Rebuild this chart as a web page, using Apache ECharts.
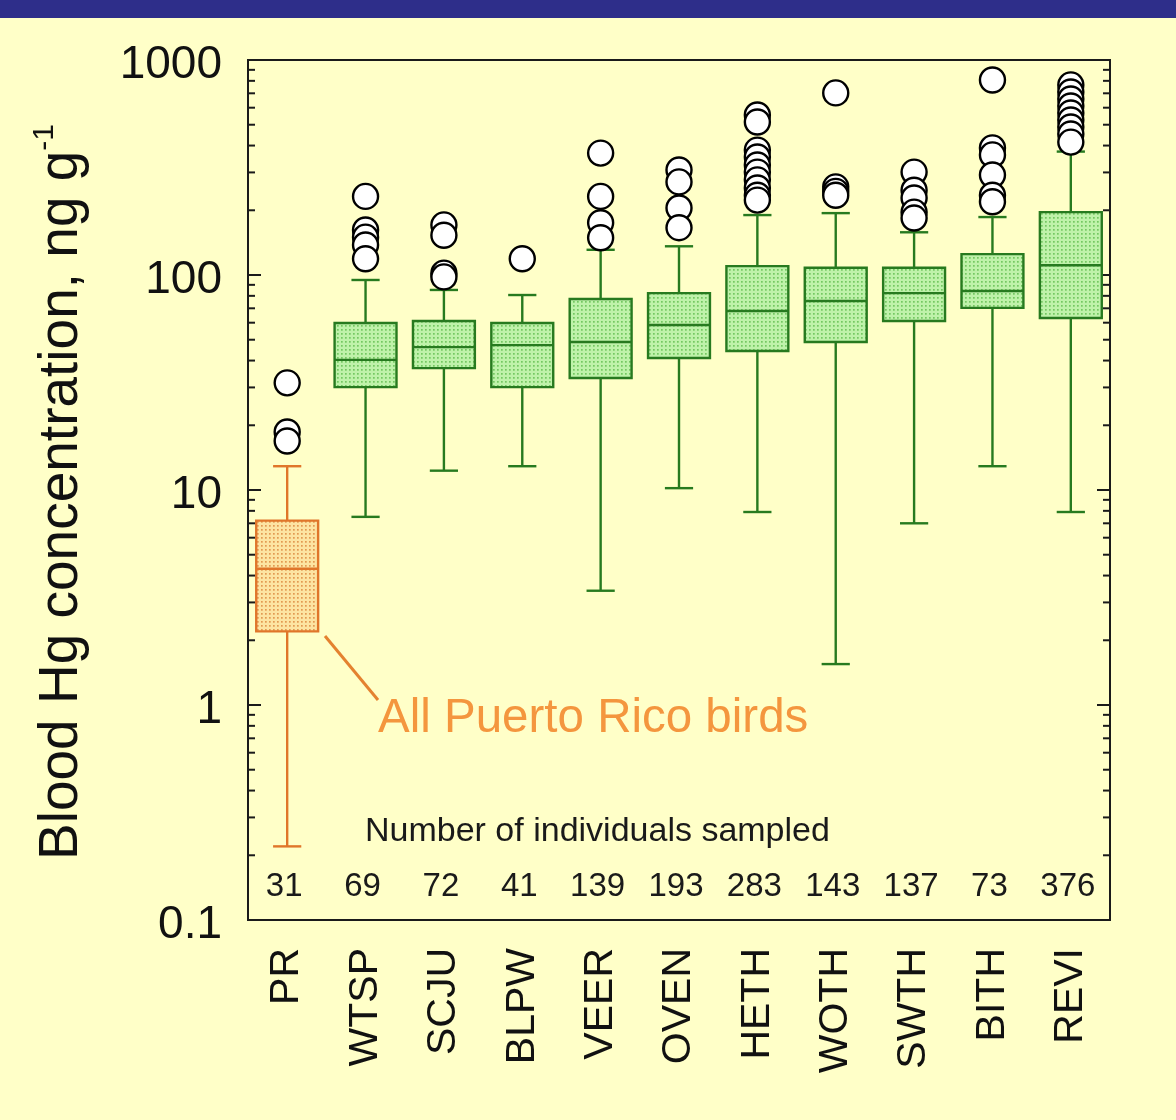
<!DOCTYPE html>
<html>
<head>
<meta charset="utf-8">
<script src="https://cdn.jsdelivr.net/npm/echarts@6/dist/echarts.min.js"></script>
<style>
html,body{margin:0;padding:0;background:#FFFFC8;}
#chart{width:1176px;height:1120px;}
</style>
</head>
<body>
<div id="chart"></div>
<script>
// ---- data ----
var categories = ['PR','WTSP','SCJU','BLPW','VEER','OVEN','HETH','WOTH','SWTH','BITH','REVI'];
var whiskerLow  = [0.22, 7.5, 12.3, 12.9, 3.4, 10.2, 7.9, 1.55, 7.0, 12.9, 7.9];
var quartile1   = [2.2, 30.1, 36.9, 30.1, 33.2, 41.1, 44.3, 48.8, 61.1, 70.3, 63.1];
var medians     = [4.3, 40.3, 46.2, 47.2, 48.8, 58.5, 68, 75.7, 82.4, 84.3, 111];
var quartile3   = [7.2, 59.8, 61.1, 59.8, 77.3, 82.4, 110, 108, 108, 125, 196];
var whiskerHigh = [12.9, 94.8, 85.2, 80.7, 131, 136, 190, 194, 158, 186, 375];
var sampleSizes = [31, 69, 72, 41, 139, 193, 283, 143, 137, 73, 376];
var outliersPR   = [31.5, 18.6, 16.9];
var outliersWTSP = [232, 162, 150, 138, 119];
var outliersSCJU = [171, 153, 102, 98];
var outliersBLPW = [119];
var outliersVEER = [369, 232, 175, 149];
var outliersOVEN = [308, 271, 205, 166];
var outliersHETH = [555, 515, 381, 354, 325, 301, 277, 254, 235, 223];
var outliersWOTH = [703, 257, 245, 235];
var outliersSWTH = [301, 248, 228, 196, 184];
var outliersBITH = [807, 390, 362, 292, 235, 219];
var outliersREVI = [766, 710, 659, 611, 567, 526, 488, 453, 415];
var yTickLabels = ['0.1','1','10','100','1000'];
var decades = [0.1, 1, 10, 100, 1000];

var outlierLists = [outliersPR, outliersWTSP, outliersSCJU, outliersBLPW, outliersVEER,
  outliersOVEN, outliersHETH, outliersWOTH, outliersSWTH, outliersBITH, outliersREVI];

// ---- derived tables ----
var boxData = categories.map(function (c, i) {
  return [i, whiskerLow[i], quartile1[i], medians[i], quartile3[i], whiskerHigh[i]];
});
var outlierData = [];
outlierLists.forEach(function (arr, i) { arr.forEach(function (v) { outlierData.push([i, v]); }); });
var countData = sampleSizes.map(function (n, i) { return [i, n]; });
var tickData = [];
decades.forEach(function (d, k) {
  tickData.push([0, d, 1]);
  if (k < decades.length - 1) {
    for (var m = 2; m <= 9; m++) tickData.push([0, d * m, 0]);
  }
});

function makePattern(bg, dot) {
  var c = document.createElement('canvas');
  c.width = 4; c.height = 4;
  var ctx = c.getContext('2d');
  ctx.fillStyle = bg; ctx.fillRect(0, 0, 4, 4);
  ctx.fillStyle = dot; ctx.fillRect(1, 1, 1.7, 1.7);
  return { image: c, repeat: 'repeat' };
}
var greenFill = makePattern('#bff2aa', '#74c862');
var orangeFill = makePattern('#fde4a2', '#e19a52');
var GREEN = '#277a1f', ORANGE = '#e0762a';
var FONT = 'Liberation Sans, Arial, Helvetica, sans-serif';

var chart = echarts.init(document.getElementById('chart'), null, { renderer: 'canvas' });

chart.setOption({
  backgroundColor: '#FFFFC8',
  animation: false,
  grid: { left: 248, top: 60, width: 862, height: 860, show: true, borderColor: '#1a1a1a', borderWidth: 2, backgroundColor: 'transparent' },
  xAxis: {
    type: 'category', data: categories, boundaryGap: true,
    axisLine: { show: false }, axisTick: { show: false }, splitLine: { show: false },
    axisLabel: { rotate: 90, fontSize: 41, margin: 28, color: '#111', fontFamily: FONT }
  },
  yAxis: {
    type: 'log', logBase: 10, min: 0.1, max: 1000,
    axisLine: { show: false }, axisTick: { show: false }, splitLine: { show: false },
    axisLabel: {
      fontSize: 46, margin: 26, color: '#111', fontFamily: FONT, verticalAlign: 'top', padding: [-18, 0, 0, 0],
      formatter: function (v) {
        var k = decades.findIndex(function (d) { return Math.abs(Math.log10(d) - Math.log10(v)) < 1e-6; });
        return k >= 0 ? yTickLabels[k] : '';
      }
    }
  },
  graphic: [
    { type: 'rect', shape: { x: 0, y: 0, width: 1176, height: 18 }, style: { fill: '#2E2E8A' } },
    { type: 'text', x: 62, y: 492, rotation: Math.PI / 2,
      style: { text: '{m|Blood Hg concentration, ng g}{s|-1}', textAlign: 'center', textVerticalAlign: 'middle',
        rich: { m: { fontSize: 55, fontFamily: FONT, fill: '#111', lineHeight: 64 },
                s: { fontSize: 30, fontFamily: FONT, fill: '#111', verticalAlign: 'top' } } } },
    { type: 'line', shape: { x1: 325, y1: 636, x2: 378, y2: 700 }, style: { stroke: '#e4822f', lineWidth: 3 } },
    { type: 'text', x: 378, y: 719, style: { text: 'All Puerto Rico birds', fontSize: 47.5, fontFamily: FONT, fill: '#F4963E', textVerticalAlign: 'middle' } },
    { type: 'text', x: 365, y: 832, style: { text: 'Number of individuals sampled', fontSize: 34, fontFamily: FONT, fill: '#1a1a1a', textVerticalAlign: 'middle' } }
  ],
  series: [
    {
      type: 'custom', name: 'ticks', data: tickData, clip: false, silent: true, z: 1,
      renderItem: function (params, api) {
        var y = api.coord([0, api.value(1)])[1];
        var cs = params.coordSys;
        var len = api.value(2) ? 13 : 7;
        var st = { stroke: '#1a1a1a', lineWidth: 2 };
        return { type: 'group', children: [
          { type: 'line', shape: { x1: cs.x, y1: y, x2: cs.x + len, y2: y }, style: st },
          { type: 'line', shape: { x1: cs.x + cs.width, y1: y, x2: cs.x + cs.width - len, y2: y }, style: st }
        ] };
      }
    },
    {
      type: 'custom', name: 'boxes', data: boxData, clip: false, z: 2,
      renderItem: function (params, api) {
        var i = api.value(0);
        var lo = api.coord([i, api.value(1)]);
        var q1 = api.coord([i, api.value(2)]);
        var md = api.coord([i, api.value(3)]);
        var q3 = api.coord([i, api.value(4)]);
        var hi = api.coord([i, api.value(5)]);
        var band = api.size([1, 0])[0];
        var bw = band * 0.79, cw = band * 0.36;
        var x = lo[0];
        var col = i === 0 ? ORANGE : GREEN;
        var fill = i === 0 ? orangeFill : greenFill;
        var ls = { stroke: col, lineWidth: 2.4 };
        return { type: 'group', children: [
          { type: 'line', shape: { x1: x, y1: q1[1], x2: x, y2: lo[1] }, style: ls },
          { type: 'line', shape: { x1: x, y1: q3[1], x2: x, y2: hi[1] }, style: ls },
          { type: 'line', shape: { x1: x - cw / 2, y1: lo[1], x2: x + cw / 2, y2: lo[1] }, style: ls },
          { type: 'line', shape: { x1: x - cw / 2, y1: hi[1], x2: x + cw / 2, y2: hi[1] }, style: ls },
          { type: 'rect', shape: { x: x - bw / 2, y: q3[1], width: bw, height: q1[1] - q3[1] }, style: { fill: fill, stroke: col, lineWidth: 2.4 } },
          { type: 'line', shape: { x1: x - bw / 2, y1: md[1], x2: x + bw / 2, y2: md[1] }, style: ls }
        ] };
      }
    },
    {
      type: 'scatter', name: 'outliers', data: outlierData, z: 3,
      symbol: 'circle', symbolSize: 25,
      itemStyle: { color: '#ffffff', borderColor: '#000000', borderWidth: 2.4, opacity: 1 }
    },
    {
      type: 'custom', name: 'counts', data: countData, clip: false, z: 4,
      renderItem: function (params, api) {
        var i = api.value(0);
        var p = api.coord([i, 0.142]);
        return { type: 'text', x: p[0] - 3, y: p[1],
          style: { text: String(api.value(1)), fontSize: 33, fontFamily: FONT, fill: '#1a1a1a', textAlign: 'center', textVerticalAlign: 'middle' } };
      }
    }
  ]
});
</script>
</body>
</html>
